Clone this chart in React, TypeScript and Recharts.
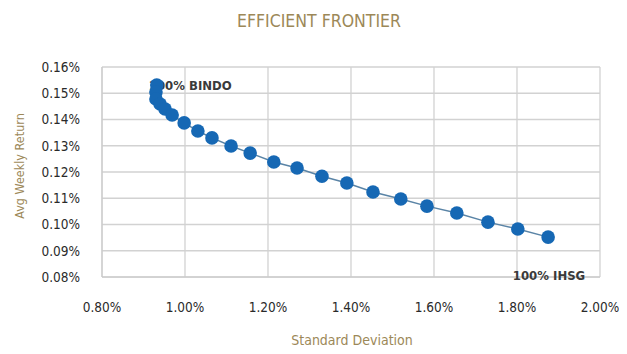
import { ScatterChart, Scatter, XAxis, YAxis, CartesianGrid, ReferenceDot, Label } from 'recharts'

// portfolio std dev (%) and avg weekly return (%)
const stdDev = [
  0.932, 0.930, 0.930, 0.940, 0.952, 0.969, 0.998, 1.031, 1.065, 1.111, 1.157,
  1.214, 1.270, 1.330, 1.390, 1.453, 1.520, 1.583, 1.655, 1.730, 1.802, 1.875,
]
const avgReturn = [
  0.1531, 0.1505, 0.1478, 0.1459, 0.1440, 0.1417, 0.1387, 0.1356, 0.1330, 0.1299, 0.1272,
  0.1238, 0.1215, 0.1184, 0.1158, 0.1124, 0.1097, 0.1070, 0.1044, 0.1009, 0.0983, 0.0952,
]
const xTicks = [0.8, 1.0, 1.2, 1.4, 1.6, 1.8, 2.0]
const yTicks = [0.08, 0.09, 0.1, 0.11, 0.12, 0.13, 0.14, 0.15, 0.16]
const annotations = [
  { x: 0.932, y: 0.1531, text: '100% BINDO', dx: -8 },
  { x: 1.79, y: 0.0806, text: '100% IHSG', dx: 0 },
]

const gold = '#9c8858'
const font = '"DejaVu Sans Condensed", "DejaVu Sans", sans-serif'

export default function App() {
  const data = stdDev.map((x, i) => ({ x, y: avgReturn[i] }))
  const fmt = (v: number) => v.toFixed(2) + '%'

  return (
    <div style={{ position: 'relative', width: 627, height: 354, margin: -8, overflow: 'hidden', background: '#fff', fontFamily: font }}>
      <ScatterChart width={627} height={354} margin={{ top: 67, right: 27, bottom: 0, left: 0 }}>
        <CartesianGrid stroke="#d2d2d2" strokeWidth={1.3} />
        <XAxis
          type="number"
          dataKey="x"
          domain={[0.8, 2.0]}
          ticks={xTicks}
          tickFormatter={fmt}
          axisLine={{ stroke: '#c8c8c8' }}
          tickLine={false}
          tickSize={0}
          tickMargin={25}
          height={77}
          tick={{ fill: '#2a2a2a', fontSize: 13.5, fontFamily: font }}
        />
        <YAxis
          type="number"
          dataKey="y"
          domain={[0.08, 0.16]}
          ticks={yTicks}
          tickFormatter={fmt}
          axisLine={{ stroke: '#c8c8c8' }}
          tickLine={false}
          tickSize={0}
          tickMargin={22}
          width={102}
          tick={{ fill: '#2a2a2a', fontSize: 13.5, fontFamily: font }}
        />
        {annotations.map((a) => (
          <ReferenceDot key={a.text} x={a.x} y={a.y} r={0} stroke="none" fill="none">
            <Label
              content={(props: any) => {
                const vb = props.viewBox || {}
                const cx = (vb.x ?? 0) + (vb.width ?? 0) / 2
                const cy = (vb.y ?? 0) + (vb.height ?? 0) / 2
                return (
                  <text x={cx + a.dx} y={cy} dy="0.35em" fill="#3a3a3a" fontSize={13} fontWeight="bold" fontFamily={font}>
                    {a.text}
                  </text>
                )
              }}
            />
          </ReferenceDot>
        ))}
        <Scatter
          data={data}
          line={{ stroke: '#5a84a6', strokeWidth: 1.5 }}
          lineType="joint"
          fill="#1668b4"
          shape={(p: any) => <circle cx={p.cx} cy={p.cy} r={6.8} fill="#1668b4" />}
          isAnimationActive={false}
        />
      </ScatterChart>
      <div style={{ position: 'absolute', top: 11, left: 319, transform: 'translateX(-50%)', color: gold, fontSize: 17.5, lineHeight: '20px', whiteSpace: 'nowrap' }}>
        EFFICIENT FRONTIER
      </div>
      <div style={{ position: 'absolute', left: 352, top: 333, transform: 'translateX(-50%)', color: gold, fontSize: 14, lineHeight: '15px', whiteSpace: 'nowrap' }}>
        Standard Deviation
      </div>
      <div style={{ position: 'absolute', left: 20, top: 166, transform: 'translate(-50%, -50%) rotate(-90deg)', color: gold, fontSize: 12.5, lineHeight: '14px', whiteSpace: 'nowrap' }}>
        Avg Weekly Return
      </div>
    </div>
  )
}
